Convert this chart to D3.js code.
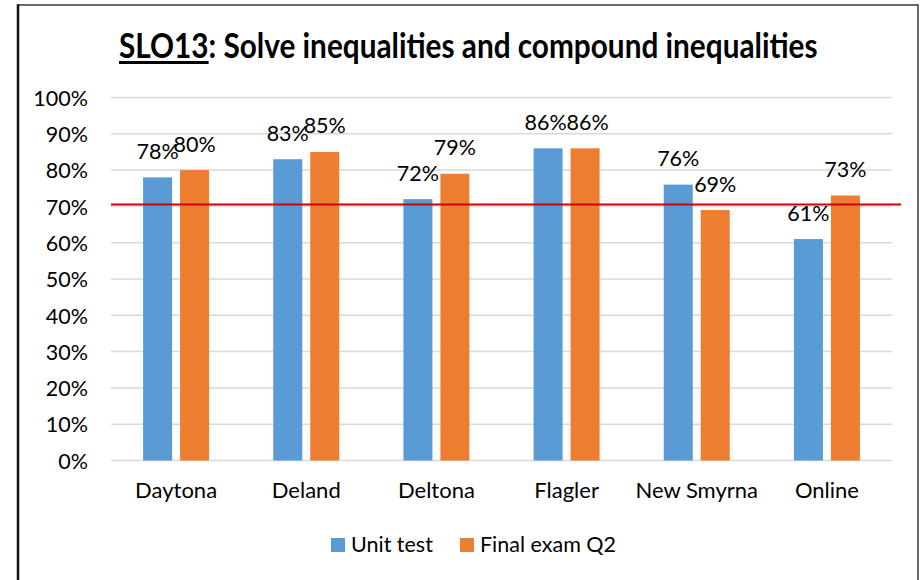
<!DOCTYPE html>
<html>
<head>
<meta charset="utf-8">
<script src="https://cdn.jsdelivr.net/npm/d3@7"></script>
<style>
  html, body { margin: 0; padding: 0; background: #fff; }
  svg { display: block; font-family: Lato, "Open Sans", sans-serif; }
</style>
</head>
<body>
<svg id="chart" width="922" height="580"></svg>
<script>
const categories = ["Daytona", "Deland", "Deltona", "Flagler", "New Smyrna", "Online"];
const seriesNames = ["Unit test", "Final exam Q2"];
const unitTest = [0.78, 0.83, 0.72, 0.86, 0.76, 0.61];
const finalExam = [0.80, 0.85, 0.79, 0.86, 0.69, 0.73];
const yTicks = [0, 0.1, 0.2, 0.3, 0.4, 0.5, 0.6, 0.7, 0.8, 0.9, 1.0];
const threshold = 0.705;
const colors = ["#5b9bd5", "#ed7d31"];
const titlePrefix = "SLO13";
const titleRest = ": Solve inequalities and compound inequalities";

const svg = d3.select("#chart");
const W = 922, H = 580;
const FS = 21.5;

// frame
svg.append("line").attr("x1", 18).attr("x2", 918).attr("y1", 5).attr("y2", 5)
  .attr("stroke", "#3a3a3a").attr("stroke-width", 1.5);
svg.append("line").attr("x1", 18).attr("x2", 18).attr("y1", 4.25).attr("y2", H)
  .attr("stroke", "#111").attr("stroke-width", 2.5);
svg.append("line").attr("x1", 918).attr("x2", 918).attr("y1", 4.25).attr("y2", H)
  .attr("stroke", "#3a3a3a").attr("stroke-width", 1.5);

// title: one text, horizontally condensed by a transform; underline under the prefix
const titleX = 119, titleW = 699, titleFS = 35;
const titleG = svg.append("g");
const titleT = titleG.append("text")
  .attr("x", 0).attr("y", 0)
  .attr("font-size", titleFS).attr("font-weight", 700).attr("fill", "#000")
  .text(titlePrefix + titleRest);
const fullW = titleT.node().getComputedTextLength();
const prefW = titleT.node().getSubStringLength(0, titlePrefix.length);
const sx = titleW / fullW;
titleG.attr("transform", `translate(${titleX},58) scale(${sx},1)`);
svg.append("rect").attr("x", titleX).attr("y", 61)
  .attr("width", prefW * sx).attr("height", 3).attr("fill", "#000");

// scales
const x = d3.scaleBand().domain(categories).range([111, 892]).paddingInner(0).paddingOuter(0);
const xSub = d3.scaleBand().domain(seriesNames).range([0, x.bandwidth()])
  .paddingInner(0.216).paddingOuter(0.867);
const y = d3.scaleLinear().domain([0, 1]).range([460.5, 97.5]);

// gridlines
svg.append("g").selectAll("line").data(yTicks).join("line")
  .attr("x1", 111).attr("x2", 892)
  .attr("y1", d => y(d)).attr("y2", d => y(d))
  .attr("stroke", "#d9d9d9").attr("stroke-width", 1.5);

// y axis labels
const yAxis = d3.axisLeft(y).tickValues(yTicks).tickFormat(d3.format(".0%")).tickSize(0).tickPadding(0);
const ya = svg.append("g").attr("transform", "translate(88,0)").call(yAxis);
ya.select(".domain").remove();
ya.selectAll("text").attr("font-size", FS).attr("font-family", "Lato, sans-serif").attr("fill", "#000")
  .attr("dy", "0.36em");

// x axis labels
const xAxis = d3.axisBottom(x).tickSize(0).tickPadding(0);
const xa = svg.append("g").attr("transform", "translate(0,498)").call(xAxis);
xa.select(".domain").remove();
xa.selectAll("text").attr("font-size", 22).attr("font-family", "Lato, sans-serif").attr("fill", "#000")
  .attr("dy", 0);

// bars
const rows = categories.map((c, i) => ({ cat: c, vals: [unitTest[i], finalExam[i]] }));
const groups = svg.append("g").selectAll("g").data(rows).join("g")
  .attr("transform", d => `translate(${x(d.cat)},0)`);
groups.selectAll("rect").data(d => d.vals.map((v, j) => ({ s: seriesNames[j], v, j }))).join("rect")
  .attr("x", d => xSub(d.s)).attr("width", xSub.bandwidth())
  .attr("y", d => y(d.v)).attr("height", d => y(0) - y(d.v))
  .attr("fill", d => colors[d.j]);

// threshold line
svg.append("line").attr("x1", 111).attr("x2", 901)
  .attr("y1", y(threshold)).attr("y2", y(threshold))
  .attr("stroke", "#d00000").attr("stroke-width", 2);

// data labels (nudge apart slightly when both labels sit at the same height)
groups.selectAll("text.lbl")
  .data(d => d.vals.map((v, j) => ({ s: seriesNames[j], v, j, same: Math.abs(d.vals[0] - d.vals[1]) < 0.015 })))
  .join("text")
  .attr("class", "lbl")
  .attr("x", d => xSub(d.s) + xSub.bandwidth() / 2 + (d.same ? (d.j === 0 ? -2.5 : 2.5) : 0))
  .attr("y", d => y(d.v) - 18.5)
  .attr("text-anchor", "middle").attr("font-size", FS).attr("fill", "#000")
  .text(d => d3.format(".0%")(d.v));

// legend
const legendX = [331, 460];
const lg = svg.append("g").selectAll("g").data(seriesNames).join("g")
  .attr("transform", (d, i) => `translate(${legendX[i]},538)`);
lg.append("rect").attr("width", 14).attr("height", 14).attr("fill", (d, i) => colors[i]);
lg.append("text").attr("x", 20).attr("y", 14).attr("font-size", FS).attr("fill", "#000").text(d => d);
</script>
</body>
</html>
